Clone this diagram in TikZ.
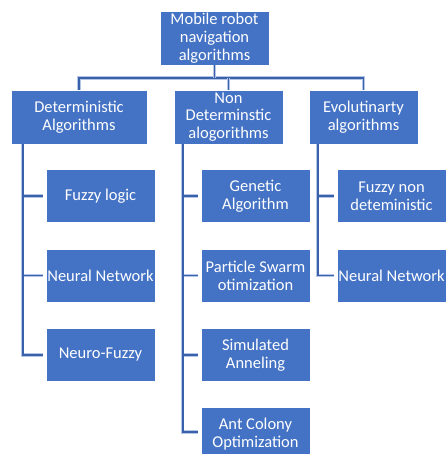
\documentclass[tikz,border=0pt]{standalone}
\usepackage{fontspec}
\setmainfont{Carlito}
\definecolor{boxblue}{HTML}{4472C4}
\definecolor{linecore}{HTML}{3A62AA}
\definecolor{linehalo}{HTML}{B4C5E6}
\tikzset{
  x=1pt, y=-1pt,
  blk/.style={rectangle, fill=boxblue, draw=white, line width=0.4pt,
    text=white, align=center, inner sep=0pt,
    font=\fontsize{16.5}{17.8}\selectfont,
    minimum width=109pt, minimum height=53pt},
  conn/.style={draw=linecore, line width=1.7pt,
    preaction={draw=linehalo, line width=3.2pt}},
}
\begin{document}
\begin{tikzpicture}
\useasboundingbox (0,0) rectangle (445,454);

% root
\node[blk, minimum height=54pt] (root) at (214.5,38) {Mobile robot\\navigation\\algorithms};

% first level
\node[blk, minimum width=136pt, minimum height=54pt] (det) at (79,117) {Deterministic\\Algorithms};
\node[blk, minimum height=54pt] (non) at (228.5,117) {Non\\Determinstic\\alogorithms};
\node[blk, minimum height=54pt] (evo) at (363.5,117) {Evolutinarty\\algorithms};

% deterministic children
\node[blk] (fuzzy) at (100.5,196) {Fuzzy logic};
\node[blk] (nn1) at (100.5,275.5) {Neural Network};
\node[blk] (nf) at (100.5,355) {Neuro-Fuzzy};

% non-deterministic children
\node[blk] (ga) at (255.5,196) {Genetic\\Algorithm};
\node[blk] (pso) at (255.5,275.5) {Particle Swarm\\otimization};
\node[blk] (sa) at (255.5,355) {Simulated\\Anneling};
\node[blk] (aco) at (255.5,434) {Ant Colony\\Optimization};

% evolutionary children
\node[blk] (fnd) at (391.5,196) {Fuzzy non\\deteministic};
\node[blk] (nn2) at (391.5,275.5) {Neural Network};

% tree connectors, top level
\coordinate (bar) at (0,78);
\draw[conn] (det.north) -- (det.north |- bar) -- (evo.north |- bar) -- (evo.north);
\draw[conn] (root.south) -- (root.south |- bar);
\draw[conn] (non.north) -- (non.north |- bar);

% trunks under each group
\coordinate (tL) at ([xshift=12pt]det.south west);
\coordinate (tM) at ([xshift=9pt]non.south west);
\coordinate (tR) at ([xshift=9pt]evo.south west);

\foreach \c in {fuzzy,nn1,nf}
  \draw[conn] (tL) |- ([xshift=-3pt]\c.west);
\foreach \c in {ga,pso,sa}
  \draw[conn] (tM) |- ([xshift=-3pt]\c.west);
\draw[conn] (tM) |- ([xshift=-3pt,yshift=2pt]aco.west);
\foreach \c in {fnd,nn2}
  \draw[conn] (tR) |- ([xshift=-3pt]\c.west);
\end{tikzpicture}
\end{document}
